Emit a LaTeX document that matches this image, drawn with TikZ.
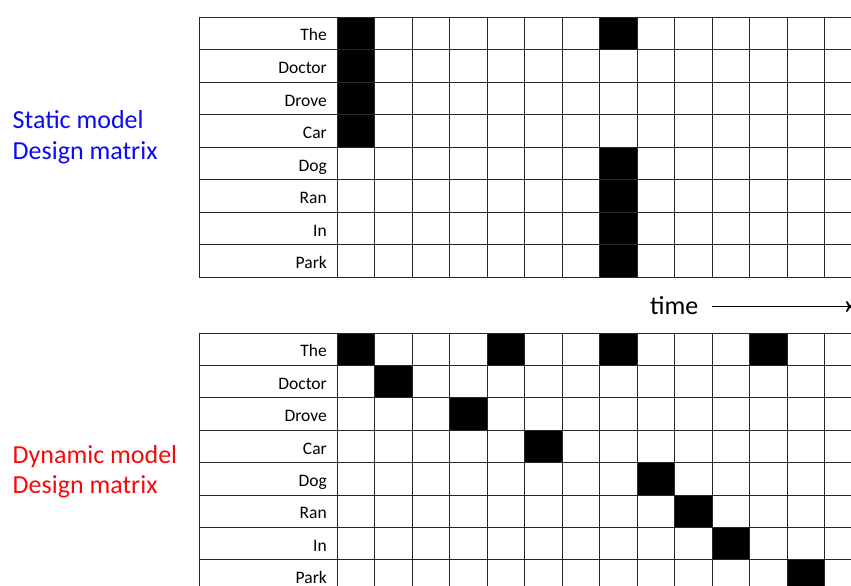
\documentclass[tikz,border=0pt]{standalone}
\usepackage{fontspec}
\usetikzlibrary{arrows.meta}
\setmainfont{Carlito}
\definecolor{staticblue}{RGB}{10,10,245}
\definecolor{dynred}{RGB}{245,10,10}
\begin{document}
\begin{tikzpicture}[x=1pt,y=-1pt,
  gridline/.style={draw=black!85, line width=0.9pt},
  cellfill/.style={fill=black},
  rowlabel/.style={anchor=base east, font=\fontsize{17.5}{17.5}\selectfont, inner sep=0pt},
  biglabel/.style={anchor=base west, font=\fontsize{26}{30}\selectfont, inner sep=0pt},
  timearrow/.style={draw=black, line width=1.8pt, -{To[length=6pt,width=11pt]}}]
\useasboundingbox (0,0) rectangle (851,586);
\begin{scope}
\clip (0,0) rectangle (851,586);
% ---------- top (static) grid ----------
\def\topY{17}\def\rowH{32.5}\def\colW{37.5}\def\cx{337}
\foreach \c/\r in {1/0,1/1,1/2,1/3,8/0,8/4,8/5,8/6,8/7}
  \fill[cellfill] ({\cx+(\c-1)*\colW},{\topY+\r*\rowH}) rectangle ++(\colW,\rowH);
\foreach \i in {0,...,8}
  \draw[gridline] (199,{\topY+\i*\rowH}) -- (862,{\topY+\i*\rowH});
\draw[gridline] (199,\topY) -- (199,{\topY+8*\rowH});
\foreach \k in {0,...,14}
  \draw[gridline] ({\cx+\k*\colW},\topY) -- ({\cx+\k*\colW},{\topY+8*\rowH});
\foreach \w [count=\n from 0] in {The,Doctor,Drove,Car,Dog,Ran,In,Park}
  \node[rowlabel] (t\w) at (327,{\topY+\n*\rowH+24}) {\w};
% ---------- bottom (dynamic) grid ----------
\def\botY{333}\def\rowHb{32.4}
\foreach \c/\r in {1/0,5/0,8/0,12/0,2/1,4/2,6/3,9/4,10/5,11/6,13/7}
  \fill[cellfill] ({\cx+(\c-1)*\colW},{\botY+\r*\rowHb}) rectangle ++(\colW,\rowHb);
\foreach \i in {0,...,8}
  \draw[gridline] (199,{\botY+\i*\rowHb}) -- (862,{\botY+\i*\rowHb});
\draw[gridline] (199,\botY) -- (199,{\botY+8*\rowHb});
\foreach \k in {0,...,14}
  \draw[gridline] ({\cx+\k*\colW},\botY) -- ({\cx+\k*\colW},{\botY+8*\rowHb});
\foreach \w [count=\n from 0] in {The,Doctor,Drove,Car,Dog,Ran,In,Park}
  \node[rowlabel] (b\w) at (327,{\botY+\n*\rowHb+23.8}) {\w};
% ---------- side labels ----------
\node[biglabel, text=staticblue] (staticA) at (12.5,128) {Static model};
\node[biglabel, text=staticblue] (staticB) at (12.5,159.5) {Design matrix};
\node[biglabel, text=dynred] (dynA) at (12.5,463.5) {Dynamic model};
\node[biglabel, text=dynred] (dynB) at (12.5,493.5) {Design matrix};
% ---------- time arrow ----------
\node[biglabel] (time) at (650,314) {time};
\coordinate (timeend) at (852,306.5);
\draw[timearrow] (712,306.5) -- (timeend);
\end{scope}
\end{tikzpicture}
\end{document}
